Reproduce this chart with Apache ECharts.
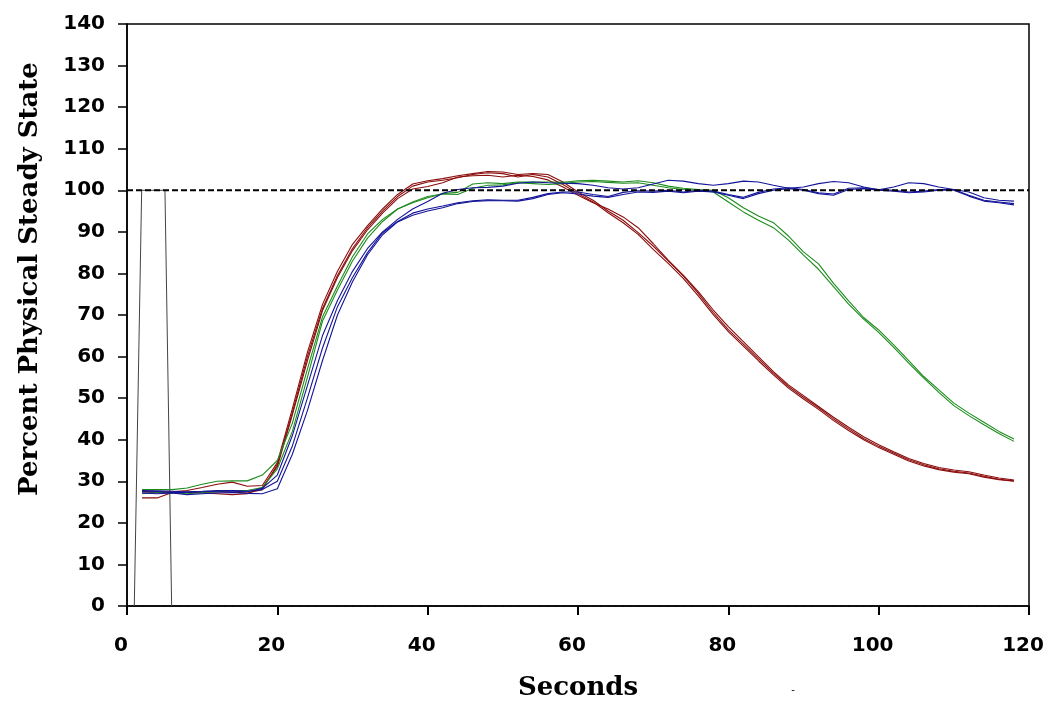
<!DOCTYPE html>
<html>
<head>
<meta charset="utf-8">
<script src="https://cdn.jsdelivr.net/npm/echarts@6/dist/echarts.min.js"></script>
<style>
html,body{margin:0;padding:0;background:#fff;}
#chart{width:1050px;height:702px;}
</style>
</head>
<body>
<div id="chart"></div>
<script>
// ---- data ----
var seconds = [2,4,6,8,10,12,14,16,18,20,22,24,26,28,30,32,34,36,38,40,42,44,46,48,50,52,54,56,58,60,62,64,66,68,70,72,74,76,78,80,82,84,86,88,90,92,94,96,98,100,102,104,106,108,110,112,114,116,118];

var red1 = [26,26,27.3,27.3,27.2,27,26.8,27,28.5,
  33.5,46,59,71,79,85.5,90.5,94.5,98,100.3,100.9,
  101.8,103.2,103.5,103.6,103.2,103.6,103.3,102.5,100.8,
  98.8,97,95.5,93.6,91,87.2,83.2,79.6,75.6,71.2,67.2,63.6,60,56.4,53.2,50.6,48,45.4,43,40.7,38.8,37.1,35.5,34.3,33.3,32.7,32.3,31.5,30.8,30.3];
var red2 = [27.5,27.5,27.5,27.8,28.5,29.3,29.8,28.8,29,
  34.5,47.5,61,72.5,80.5,87,91.5,95.5,99,101.5,102.3,
  102.8,103.5,104,104.5,104.4,103.8,104,103.8,102,
  99.6,97.6,95,92.8,89.8,86.6,83,79.4,75.2,70.6,66.5,63,59.5,56,52.8,50.2,47.7,45,42.6,40.3,38.4,36.8,35.2,34,33,32.4,32,31.2,30.5,30.1];
var red3 = [27.5,27.3,27.2,27.4,27.3,27.5,27.4,27.2,28,
  34,46.5,60,71.5,79.5,86,91,95,98.5,101,102,
  102.4,103,103.8,104.2,104,103.2,103.8,103.2,101.4,
  99.2,97.2,94.6,92.2,89.4,85.8,82.4,78.8,74.6,70.1,66,62.5,59,55.6,52.4,49.8,47.3,44.6,42.2,40,38.1,36.5,34.9,33.7,32.8,32.2,31.8,31,30.4,30];

var green1 = [28,28,28,28.4,29.3,30,30.1,30.1,31.5,
  35,44,57,69.5,77,84,89.5,93,95.5,97,98.2,
  99.2,99.5,101.5,101.8,101.6,102,102,102,101.9,102.3,102.4,102.2,102,102.3,101.8,101,100.5,100.2,
  100,98.2,95.8,93.8,92.2,89,85.2,82.3,77.6,73.4,69.4,66.4,62.8,59,55.2,52,48.8,46.4,44.2,42,40.2];
var green2 = [27,27.3,27.2,27,27.3,27.5,27.8,27.8,28.5,
  33,42,55,68.5,76,83,88.5,92.5,95.5,97.2,98.5,
  99.1,99,100.5,101.2,101.3,101.8,101.6,101.4,101.6,102,102.1,101.9,101.7,101.8,101.2,100.6,100.2,100,
  99.6,97.2,94.8,92.8,91,88,84.4,81,76.8,72.6,69,65.8,62.2,58.4,54.8,51.4,48.2,45.8,43.6,41.5,39.6];

var blue1 = [27.2,27,27.2,26.8,27,27.2,27.3,27.1,27,
  28.2,36.5,47,59,70,78,84.5,89.3,92.4,94,95,
  95.8,96.8,97.3,97.5,97.5,97.4,98,99,99.4,
  99.1,98.6,98.3,99,99.6,99.5,99.8,99.4,99.8,99.6,98.8,98,99.2,100,100.4,100,99.2,98.8,100.2,100.4,100,99.8,99.4,99.6,100,100,98.6,97.4,97,96.5];
var blue2 = [27.8,27.7,27.6,27.5,27.6,27.8,27.8,27.6,28,
  30,38.5,50,62,72,79,85,89.8,92.5,94.5,95.5,
  96.2,97,97.5,97.7,97.6,97.6,98.3,99.2,99.6,
  99.6,99,98.5,99.5,99.9,99.8,100,99.6,100,99.8,99,98.3,99.5,100.3,100.6,100.2,99.4,99.1,100.5,100.6,100.2,100,99.6,99.8,100.2,100.2,98.8,97.6,97.2,96.8];
var blue3 = [27.5,27.5,27.3,27.3,27.5,27.6,27.6,27.5,28.3,
  31.5,41,53,65,73.5,80.5,86,90,93,95.5,97.3,
  99.3,100.2,100.6,100.7,101,101.7,102,101.8,101.7,
  101.6,101.2,100.6,100.3,100.6,101.5,102.4,102.2,101.6,101.2,101.6,102.2,102,101.2,100.5,100.8,101.6,102.1,101.8,100.8,100.1,100.8,101.8,101.6,100.8,100.2,99.6,98.2,97.6,97.4];

var pulseX = [0.97,1.95,5.05,5.94];
var pulseY = [0,100,100,0];

var refX = [0,120];
var refY = [100,100];

var xTicks = [0,20,40,60,80,100,120];
var yTicks = [0,10,20,30,40,50,60,70,80,90,100,110,120,130,140];

// ---- build ----
function pairs(xs, ys){ return xs.map(function(x,i){ return [x, ys[i]]; }); }

var RED = '#8b0d0d', GREEN = '#1c8c1c', BLUE = '#13139a';
function lineSeries(name, ys, color){
  return {
    name: name, type:'line', data: pairs(seconds, ys), showSymbol:false, symbol:'none',
    lineStyle:{color: color, width:1.1}, z:3, animation:false
  };
}

var chart = echarts.init(document.getElementById('chart'), null, {renderer:'canvas'});
var option = {
  backgroundColor:'#ffffff',
  animation:false,
  grid:{left:127, right:21, top:24, bottom:96, show:true, borderColor:'#000', borderWidth:1.5, backgroundColor:'transparent'},
  xAxis:{
    type:'value', min:xTicks[0], max:xTicks[xTicks.length-1], interval:20,
    axisLine:{show:true, lineStyle:{color:'#111', width:2}},
    axisTick:{show:true, length:9, lineStyle:{color:'#000', width:2}},
    minorTick:{show:true, splitNumber:20, length:1, lineStyle:{color:'#000', width:1}},
    axisLabel:{fontFamily:'DejaVu Sans', fontWeight:'bold', fontSize:20, color:'#000', margin:30, padding:[0,12,0,0]},
    splitLine:{show:false}
  },
  yAxis:{
    type:'value', min:yTicks[0], max:yTicks[yTicks.length-1], interval:10,
    axisLine:{show:true, lineStyle:{color:'#000', width:1.5}},
    axisTick:{show:true, length:9, lineStyle:{color:'#000', width:1.5}},
    axisLabel:{fontFamily:'DejaVu Sans', fontWeight:'bold', fontSize:20, color:'#000', margin:22},
    splitLine:{show:false}
  },
  graphic:[
    {type:'text', x:30, y:279, rotation:Math.PI/2, z:10,
     style:{text:'Percent Physical Steady State', font:'bold 26px "DejaVu Serif"', fill:'#000', textAlign:'center', textVerticalAlign:'middle'}},
    {type:'text', x:578, y:688, z:10,
     style:{text:'Seconds', font:'bold 26px "DejaVu Serif"', fill:'#000', textAlign:'center', textVerticalAlign:'middle'}},
    {type:'text', x:793, y:690, z:10,
     style:{text:'-', font:'10px "DejaVu Sans"', fill:'#000', textAlign:'center', textVerticalAlign:'middle'}}
  ],
  series:[
    {name:'pulse', type:'line', data:pairs(pulseX,pulseY), showSymbol:false, symbol:'none',
     lineStyle:{color:'#444', width:1}, z:2, animation:false},
    {name:'steady', type:'line', data:pairs(refX,refY), showSymbol:false, symbol:'none',
     lineStyle:{color:'#000', width:2, type:[6,3]}, z:4, animation:false},
    lineSeries('red1', red1, RED),
    lineSeries('red2', red2, RED),
    lineSeries('red3', red3, RED),
    lineSeries('green1', green1, GREEN),
    lineSeries('green2', green2, GREEN),
    lineSeries('blue1', blue1, BLUE),
    lineSeries('blue2', blue2, BLUE),
    lineSeries('blue3', blue3, BLUE)
  ]
};
chart.setOption(option);
</script>
</body>
</html>
